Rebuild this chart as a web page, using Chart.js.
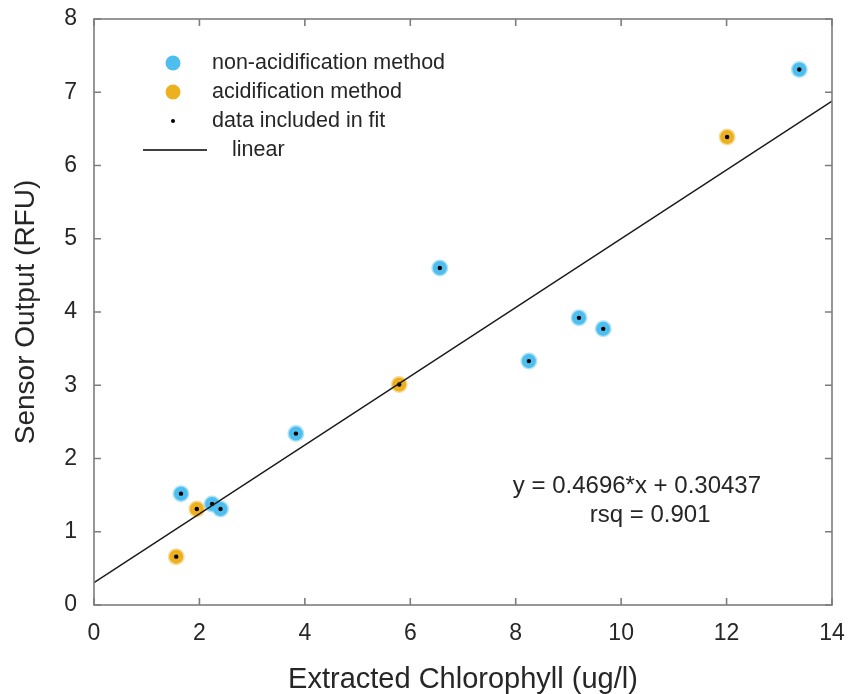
<!DOCTYPE html>
<html>
<head>
<meta charset="utf-8">
<script src="https://cdn.jsdelivr.net/npm/chart.js@4/dist/chart.umd.min.js"></script>
<style>
  html, body { margin: 0; padding: 0; background: #fff; }
  #wrap { width: 848px; height: 694px; }
</style>
</head>
<body>
<div id="wrap"><canvas id="chlChart" width="848" height="694"></canvas></div>
<script>
// values
const nonAcidX = [1.65, 2.24, 2.40, 3.83, 6.56, 8.25, 9.20, 9.66, 13.38];
const nonAcidY = [1.52, 1.38, 1.31, 2.34, 4.60, 3.33, 3.92, 3.77, 7.31];
const acidX = [1.56, 1.95, 5.79, 12.01];
const acidY = [0.66, 1.31, 3.01, 6.39];
const fitX = [0, 14];
const slope = 0.4696, intercept = 0.30437, rsq = 0.901;
const xTicks = [0, 2, 4, 6, 8, 10, 12, 14];
const yTicks = [0, 1, 2, 3, 4, 5, 6, 7, 8];

const blue = '#4DBEEE';
const orange = '#EDB120';
const axisGray = '#7d7d7d';
const textCol = '#262626';
const font = 'Liberation Sans, Arial, Helvetica, sans-serif';

const pts = (xs, ys) => xs.map((x, i) => ({ x: x, y: ys[i] }));
const allPts = pts(nonAcidX, nonAcidY).concat(pts(acidX, acidY));

// box, inward ticks, legend and fit text
const matlabLook = {
    id: 'matlabLook',
    afterDraw(chart) {
        const c = chart.ctx, a = chart.chartArea;
        const xs = chart.scales.x, ys = chart.scales.y;
        c.save();
        c.strokeStyle = axisGray;
        c.lineWidth = 1.6;
        c.strokeRect(a.left, a.top, a.right - a.left, a.bottom - a.top);
        c.beginPath();
        xTicks.forEach(v => {
            const px = xs.getPixelForValue(v);
            c.moveTo(px, a.bottom); c.lineTo(px, a.bottom - 7);
            c.moveTo(px, a.top); c.lineTo(px, a.top + 7);
        });
        yTicks.forEach(v => {
            const py = ys.getPixelForValue(v);
            c.moveTo(a.left, py); c.lineTo(a.left + 7, py);
            c.moveTo(a.right, py); c.lineTo(a.right - 7, py);
        });
        c.stroke();

        // legend
        const ds = chart.data.datasets;
        const lx = a.left + 79, tx = a.left + 118;
        let ly = a.top + 44;
        c.font = '21.5px ' + font;
        c.textBaseline = 'middle';
        c.fillStyle = textCol;
        [0, 1].forEach(i => {
            c.beginPath();
            c.fillStyle = ds[i].backgroundColor;
            c.arc(lx, ly, 7.5, 0, Math.PI * 2);
            c.fill();
            c.fillStyle = textCol;
            c.fillText(ds[i].label, tx, ly);
            ly += 29;
        });
        c.beginPath();
        c.fillStyle = '#000';
        c.arc(lx, ly, 2, 0, Math.PI * 2);
        c.fill();
        c.fillStyle = textCol;
        c.fillText(ds[2].label, tx, ly);
        ly += 29;
        c.beginPath();
        c.strokeStyle = '#000';
        c.lineWidth = 1.3;
        c.moveTo(a.left + 49, ly); c.lineTo(a.left + 113, ly);
        c.stroke();
        c.fillText(ds[3].label, a.left + 138, ly);

        // fit equation
        c.font = '24px ' + font;
        c.textAlign = 'center';
        c.fillText('y = ' + slope + '*x + ' + intercept, xs.getPixelForValue(10.3), ys.getPixelForValue(1.62));
        c.fillText('rsq = ' + rsq, xs.getPixelForValue(10.55), ys.getPixelForValue(1.23));
        c.restore();
    }
};

const ctx = document.getElementById('chlChart').getContext('2d');
const chlChart = new Chart(ctx, {
    type: 'scatter',
    data: {
        datasets: [
            {
                label: 'non-acidification method',
                data: pts(nonAcidX, nonAcidY),
                backgroundColor: blue,
                borderColor: 'rgba(77,190,238,0.45)',
                borderWidth: 3,
                pointRadius: 7,
                order: 2
            },
            {
                label: 'acidification method',
                data: pts(acidX, acidY),
                backgroundColor: orange,
                borderColor: 'rgba(237,177,32,0.45)',
                borderWidth: 3,
                pointRadius: 7,
                order: 2
            },
            {
                label: 'data included in fit',
                data: allPts,
                backgroundColor: '#000',
                borderWidth: 0,
                pointRadius: 2.2,
                order: 1
            },
            {
                type: 'line',
                label: 'linear',
                data: fitX.map(x => ({ x: x, y: slope * x + intercept })),
                borderColor: '#1a1a1a',
                borderWidth: 1.4,
                pointRadius: 0,
                fill: false,
                order: 0
            }
        ]
    },
    options: {
        responsive: false,
        animation: false,
        layout: { padding: { top: 19, right: 16, left: 0, bottom: 0 } },
        plugins: { legend: { display: false }, tooltip: { enabled: false } },
        scales: {
            x: {
                type: 'linear', min: 0, max: 14,
                afterBuildTicks: s => { s.ticks = xTicks.map(v => ({ value: v })); },
                afterFit: s => { s.height = 89; s.paddingLeft = 0; s.paddingRight = 0; },
                grid: { display: false },
                border: { display: false },
                ticks: { color: textCol, font: { size: 23, family: font }, padding: 7 },
                title: { display: true, text: 'Extracted Chlorophyll (ug/l)', color: textCol, font: { size: 29, family: font }, padding: { top: 0, bottom: -3 } }
            },
            y: {
                type: 'linear', min: 0, max: 8,
                afterBuildTicks: s => { s.ticks = yTicks.map(v => ({ value: v })); },
                afterFit: s => { s.width = 94; s.paddingTop = 0; s.paddingBottom = 0; },
                grid: { display: false },
                border: { display: false },
                ticks: { color: textCol, font: { size: 23, family: font }, padding: 9 },
                title: { display: true, text: 'Sensor Output (RFU)', color: textCol, font: { size: 28, family: font }, padding: { top: 9, bottom: 0 } }
            }
        }
    },
    plugins: [matlabLook]
});
</script>
</body>
</html>
